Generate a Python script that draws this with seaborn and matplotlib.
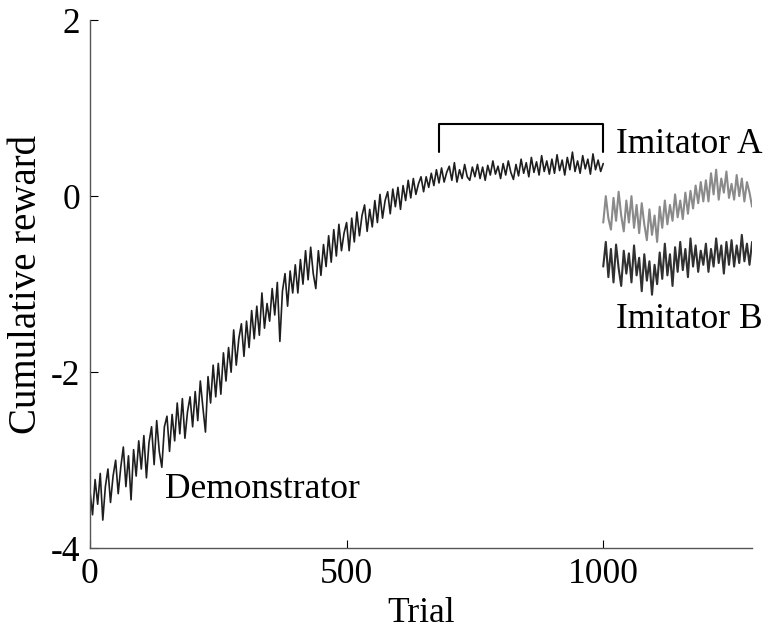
import numpy as np
import pandas as pd
import matplotlib
matplotlib.use("Agg")
import matplotlib.pyplot as plt
import seaborn as sns

#%% Data (every 5 trials)
demo_trials = np.arange(0, 1001, 5)
demo_reward = [
    -3.35, -3.62, -3.22, -3.50, -3.15, -3.68, -3.30, -3.10, -3.48, -3.18,
    -3.00, -3.38, -3.08, -2.85, -3.30, -2.95, -3.45, -2.88, -3.18, -2.78,
    -3.10, -2.72, -3.20, -2.80, -2.62, -3.05, -2.55, -2.90, -3.08, -2.62,
    -2.50, -2.90, -2.48, -2.78, -2.35, -2.70, -2.30, -2.75, -2.45, -2.28,
    -2.62, -2.22, -2.55, -2.10, -2.40, -2.68, -2.05, -2.35, -1.92, -2.28,
    -1.90, -2.25, -1.78, -2.10, -1.72, -2.00, -1.52, -1.92, -1.62, -1.45,
    -1.82, -1.42, -1.72, -1.30, -1.62, -1.25, -1.58, -1.10, -1.50, -1.22,
    -1.42, -1.05, -1.35, -0.98, -1.65, -1.08, -0.88, -1.25, -0.85, -1.10,
    -0.78, -1.10, -0.72, -1.00, -0.62, -0.95, -0.58, -0.88, -1.05, -0.62,
    -0.90, -0.55, -0.80, -0.45, -0.75, -0.38, -0.68, -0.32, -0.62, -0.42,
    -0.30, -0.62, -0.25, -0.52, -0.18, -0.45, -0.22, -0.10, -0.40, -0.15,
    -0.35, -0.05, -0.30, 0.02, -0.25, -0.05, 0.05, -0.20, 0.08, -0.12,
    0.10, -0.15, 0.12, -0.05, 0.18, -0.02, 0.20, 0.02, 0.14, 0.22,
    0.05, 0.22, 0.10, 0.26, 0.12, 0.30, 0.15, 0.32, 0.16, 0.27,
    0.34, 0.18, 0.38, 0.16, 0.30, 0.20, 0.36, 0.22, 0.18, 0.33,
    0.22, 0.36, 0.20, 0.33, 0.18, 0.35, 0.24, 0.40, 0.25, 0.34,
    0.20, 0.37, 0.24, 0.40, 0.27, 0.19, 0.36, 0.23, 0.42, 0.26,
    0.38, 0.22, 0.44, 0.27, 0.39, 0.24, 0.46, 0.28, 0.40, 0.25,
    0.42, 0.26, 0.47, 0.29, 0.41, 0.24, 0.44, 0.30, 0.50, 0.28,
    0.40, 0.26, 0.46, 0.31, 0.42, 0.25, 0.48, 0.30, 0.41, 0.28,
    0.37,
]

imit_trials = np.arange(1000, 1291, 5)
imit_a_reward = [
    -0.30, 0.00, -0.25, -0.38, -0.02, -0.28, 0.05, -0.22, -0.40, -0.05,
    -0.30, 0.00, -0.36, -0.10, -0.42, -0.08, -0.32, -0.50, -0.15, -0.44,
    -0.22, -0.52, -0.12, -0.36, -0.05, -0.32, -0.10, -0.28, 0.02, -0.24,
    -0.05, -0.26, 0.04, -0.20, 0.06, -0.14, 0.12, -0.08, 0.16, -0.06,
    0.18, -0.06, 0.26, 0.02, 0.30, -0.04, 0.20, 0.04, 0.28, -0.02,
    0.14, -0.04, 0.24, 0.00, 0.20, -0.06, 0.16, 0.04, -0.12,
]
imit_b_reward = [
    -0.80, -0.52, -0.92, -0.60, -0.98, -0.55, -0.82, -1.02, -0.62, -0.88,
    -0.65, -0.98, -0.56, -0.90, -0.70, -1.08, -0.66, -0.96, -0.74, -1.12,
    -0.78, -1.00, -0.64, -0.94, -0.54, -0.90, -0.66, -1.02, -0.58, -0.86,
    -0.52, -0.84, -0.60, -0.92, -0.48, -0.80, -0.56, -0.86, -0.62, -0.78,
    -0.54, -0.86, -0.60, -0.80, -0.48, -0.76, -0.56, -0.88, -0.52, -0.78,
    -0.50, -0.80, -0.56, -0.76, -0.44, -0.74, -0.54, -0.78, -0.52,
]

# bracket over the plateau used for imitation
bracket_x = [680, 680, 1000, 1000]
bracket_y = [0.50, 0.82, 0.82, 0.50]

x_ticks = [0, 500, 1000]
y_ticks = [-4, -2, 0, 2]

#%% Style
sns.set_style("ticks")
plt.rcParams['font.family'] = ['Liberation Serif', 'DejaVu Serif']
plt.rcParams['xtick.direction'] = 'in'
plt.rcParams['ytick.direction'] = 'in'
plt.rcParams['text.color'] = 'black'
plt.rcParams['axes.labelcolor'] = 'black'
fs = 25.5

demo = pd.DataFrame({'Trial': demo_trials, 'reward': demo_reward})
imit_a = pd.DataFrame({'Trial': imit_trials, 'reward': imit_a_reward})
imit_b = pd.DataFrame({'Trial': imit_trials, 'reward': imit_b_reward})

fig = plt.figure(figsize=(7.69, 6.28), dpi=100)
ax = fig.add_axes([0.117, 0.127, 0.861, 0.841])

sns.lineplot(data=demo, x='Trial', y='reward', color='#1e1e1e', lw=1.2, ax=ax)
sns.lineplot(data=imit_a, x='Trial', y='reward', color='#8a8a8a', lw=1.5, ax=ax)
sns.lineplot(data=imit_b, x='Trial', y='reward', color='#303030', lw=1.5, ax=ax)
ax.plot(bracket_x, bracket_y, color='black', lw=1.5)

ax.text(146, -3.33, 'Demonstrator', fontsize=fs, va='center', ha='left')
ax.text(1025, 0.59, 'Imitator A', fontsize=fs, va='center', ha='left')
ax.text(1025, -1.40, 'Imitator B', fontsize=fs, va='center', ha='left')

ax.set_xlim(0, 1290)
ax.set_ylim(-4, 2)
ax.set_xticks(x_ticks)
ax.set_yticks(y_ticks)
ax.set_xticklabels([str(t) for t in x_ticks], fontsize=fs)
ax.set_yticklabels([str(t) for t in y_ticks], fontsize=fs)
ax.tick_params(length=6, width=0.8, colors='black', pad=7)
ax.set_xlabel('Trial', fontsize=fs, labelpad=4)
ax.set_ylabel('Cumulative reward', fontsize=28, labelpad=0)
ax.yaxis.set_label_coords(-0.068, 0.5)
for s in ['left', 'bottom']:
    ax.spines[s].set_color('#555555')
    ax.spines[s].set_linewidth(1.0)
sns.despine(ax=ax)

fig.savefig('out.png', dpi=100)
